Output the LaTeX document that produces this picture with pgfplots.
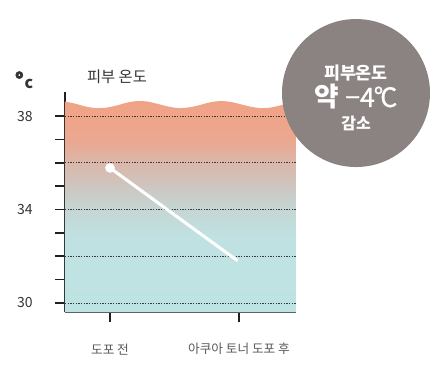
\documentclass[border=0pt]{standalone}
\usepackage{pgfplots}
\pgfplotsset{compat=1.18}
\usepackage{fontspec}
\setmainfont{Noto Sans CJK KR}
\definecolor{axisblack}{HTML}{231F20}
\definecolor{lbl}{HTML}{333333}
\definecolor{xlbl}{HTML}{5A5A5A}
\definecolor{gridc}{HTML}{3A3A3A}
\definecolor{circgray}{HTML}{8B8381}
\pgfdeclareverticalshading{skin}{100bp}{rgb(0bp)=(0.745,0.890,0.890); rgb(25bp)=(0.745,0.890,0.890); rgb(43.3bp)=(0.753,0.882,0.882); rgb(49.4bp)=(0.769,0.839,0.831); rgb(54.8bp)=(0.804,0.776,0.753); rgb(60.3bp)=(0.855,0.718,0.667); rgb(65.5bp)=(0.918,0.659,0.569); rgb(70bp)=(0.933,0.647,0.541); rgb(75bp)=(0.941,0.635,0.525); rgb(100bp)=(0.941,0.635,0.525)}
\begin{document}
\begin{tikzpicture}
\path[use as bounding box] (-48.75pt,-46.125pt) rectangle (284.25pt,234.375pt);
\begin{axis}[
  at={(0,0)}, anchor=south west, scale only axis,
  width=173.25pt, height=165.375pt,
  xmin=-0.349, xmax=1.442, ymin=29.59, ymax=39.03,
  axis x line=bottom, axis y line=left,
  axis line style={-, line width=1.5pt, color=axisblack},
  xtick={0,1}, xticklabels={도포 전, 아쿠아 토너 도포 후},
  ytick={30,31,32,33,34,35,36,37,38},
  yticklabels={30,,,,34,,,,38},
  tick align=outside, major tick length=7.5pt,
  tick style={line width=1.2pt, color=axisblack},
  yticklabel style={anchor=center, xshift=-22.5pt, font=\fontsize{10.5}{12}\selectfont, text=lbl},
  xticklabel style={anchor=center, yshift=-20pt, font=\fontsize{9.5}{11}\selectfont, text=xlbl},
  /pgf/number format/assume math mode=true,
]
\addplot[draw=none, shading=skin, smooth] coordinates {
 (-0.349,38.62) (-0.27,38.53) (-0.19,38.41) (-0.11,38.34) (-0.03,38.36)
 (0.05,38.45) (0.13,38.57) (0.21,38.64) (0.29,38.62) (0.37,38.52)
 (0.45,38.41) (0.53,38.34) (0.61,38.37) (0.69,38.46) (0.77,38.58)
 (0.85,38.64) (0.93,38.61) (1.01,38.51) (1.09,38.40) (1.17,38.34)
 (1.25,38.37) (1.33,38.47) (1.41,38.58) (1.442,38.62)
} -- (axis cs:1.442,29.59) -- (axis cs:-0.349,29.59) -- cycle;
\addplot[gridc, line width=0.6pt, dash pattern=on 0.9pt off 1.1pt] coordinates {(-0.349,30) (1.442,30)};
\addplot[gridc, line width=0.6pt, dash pattern=on 0.9pt off 1.1pt] coordinates {(-0.349,32) (1.442,32)};
\addplot[gridc, line width=0.6pt, dash pattern=on 0.9pt off 1.1pt] coordinates {(-0.349,34) (1.442,34)};
\addplot[gridc, line width=0.6pt, dash pattern=on 0.9pt off 1.1pt] coordinates {(-0.349,36) (1.442,36)};
\addplot[gridc, line width=0.6pt, dash pattern=on 0.9pt off 1.1pt] coordinates {(-0.349,38) (1.442,38)};
\addplot[white, line width=2.3pt, mark=*, mark size=2.4pt, mark indices={1}, mark options={fill=white, draw=white}] coordinates {(0,35.78) (0.99,31.8)};
\end{axis}
\node[text=lbl, inner sep=0pt] at (-30.75pt,174.4pt) {\bfseries{\fontsize{16}{16}\selectfont\addfontfeature{FakeBold=2.5}°}\kern0.6pt{\fontsize{12}{12}\selectfont c}};
\node[text=lbl, font=\fontsize{11.5}{12}\selectfont] at (39pt,176.6pt) {피부 온도};
\fill[circgray] (218.25pt,164.6pt) circle (55.5pt);
\node[white, font=\fontsize{13}{14}\bfseries] at (218.25pt,179.6pt) {피부온도};
\node[white, font=\fontsize{20}{22}\selectfont] at (218.25pt,161.6pt) {\textbf{약} {\addfontfeature{FakeBold=1}−4\kern-0.05em°\kern-0.12em C}};
\node[white, font=\fontsize{12}{13}\bfseries] at (218.25pt,142.1pt) {감소};
\end{tikzpicture}
\end{document}
